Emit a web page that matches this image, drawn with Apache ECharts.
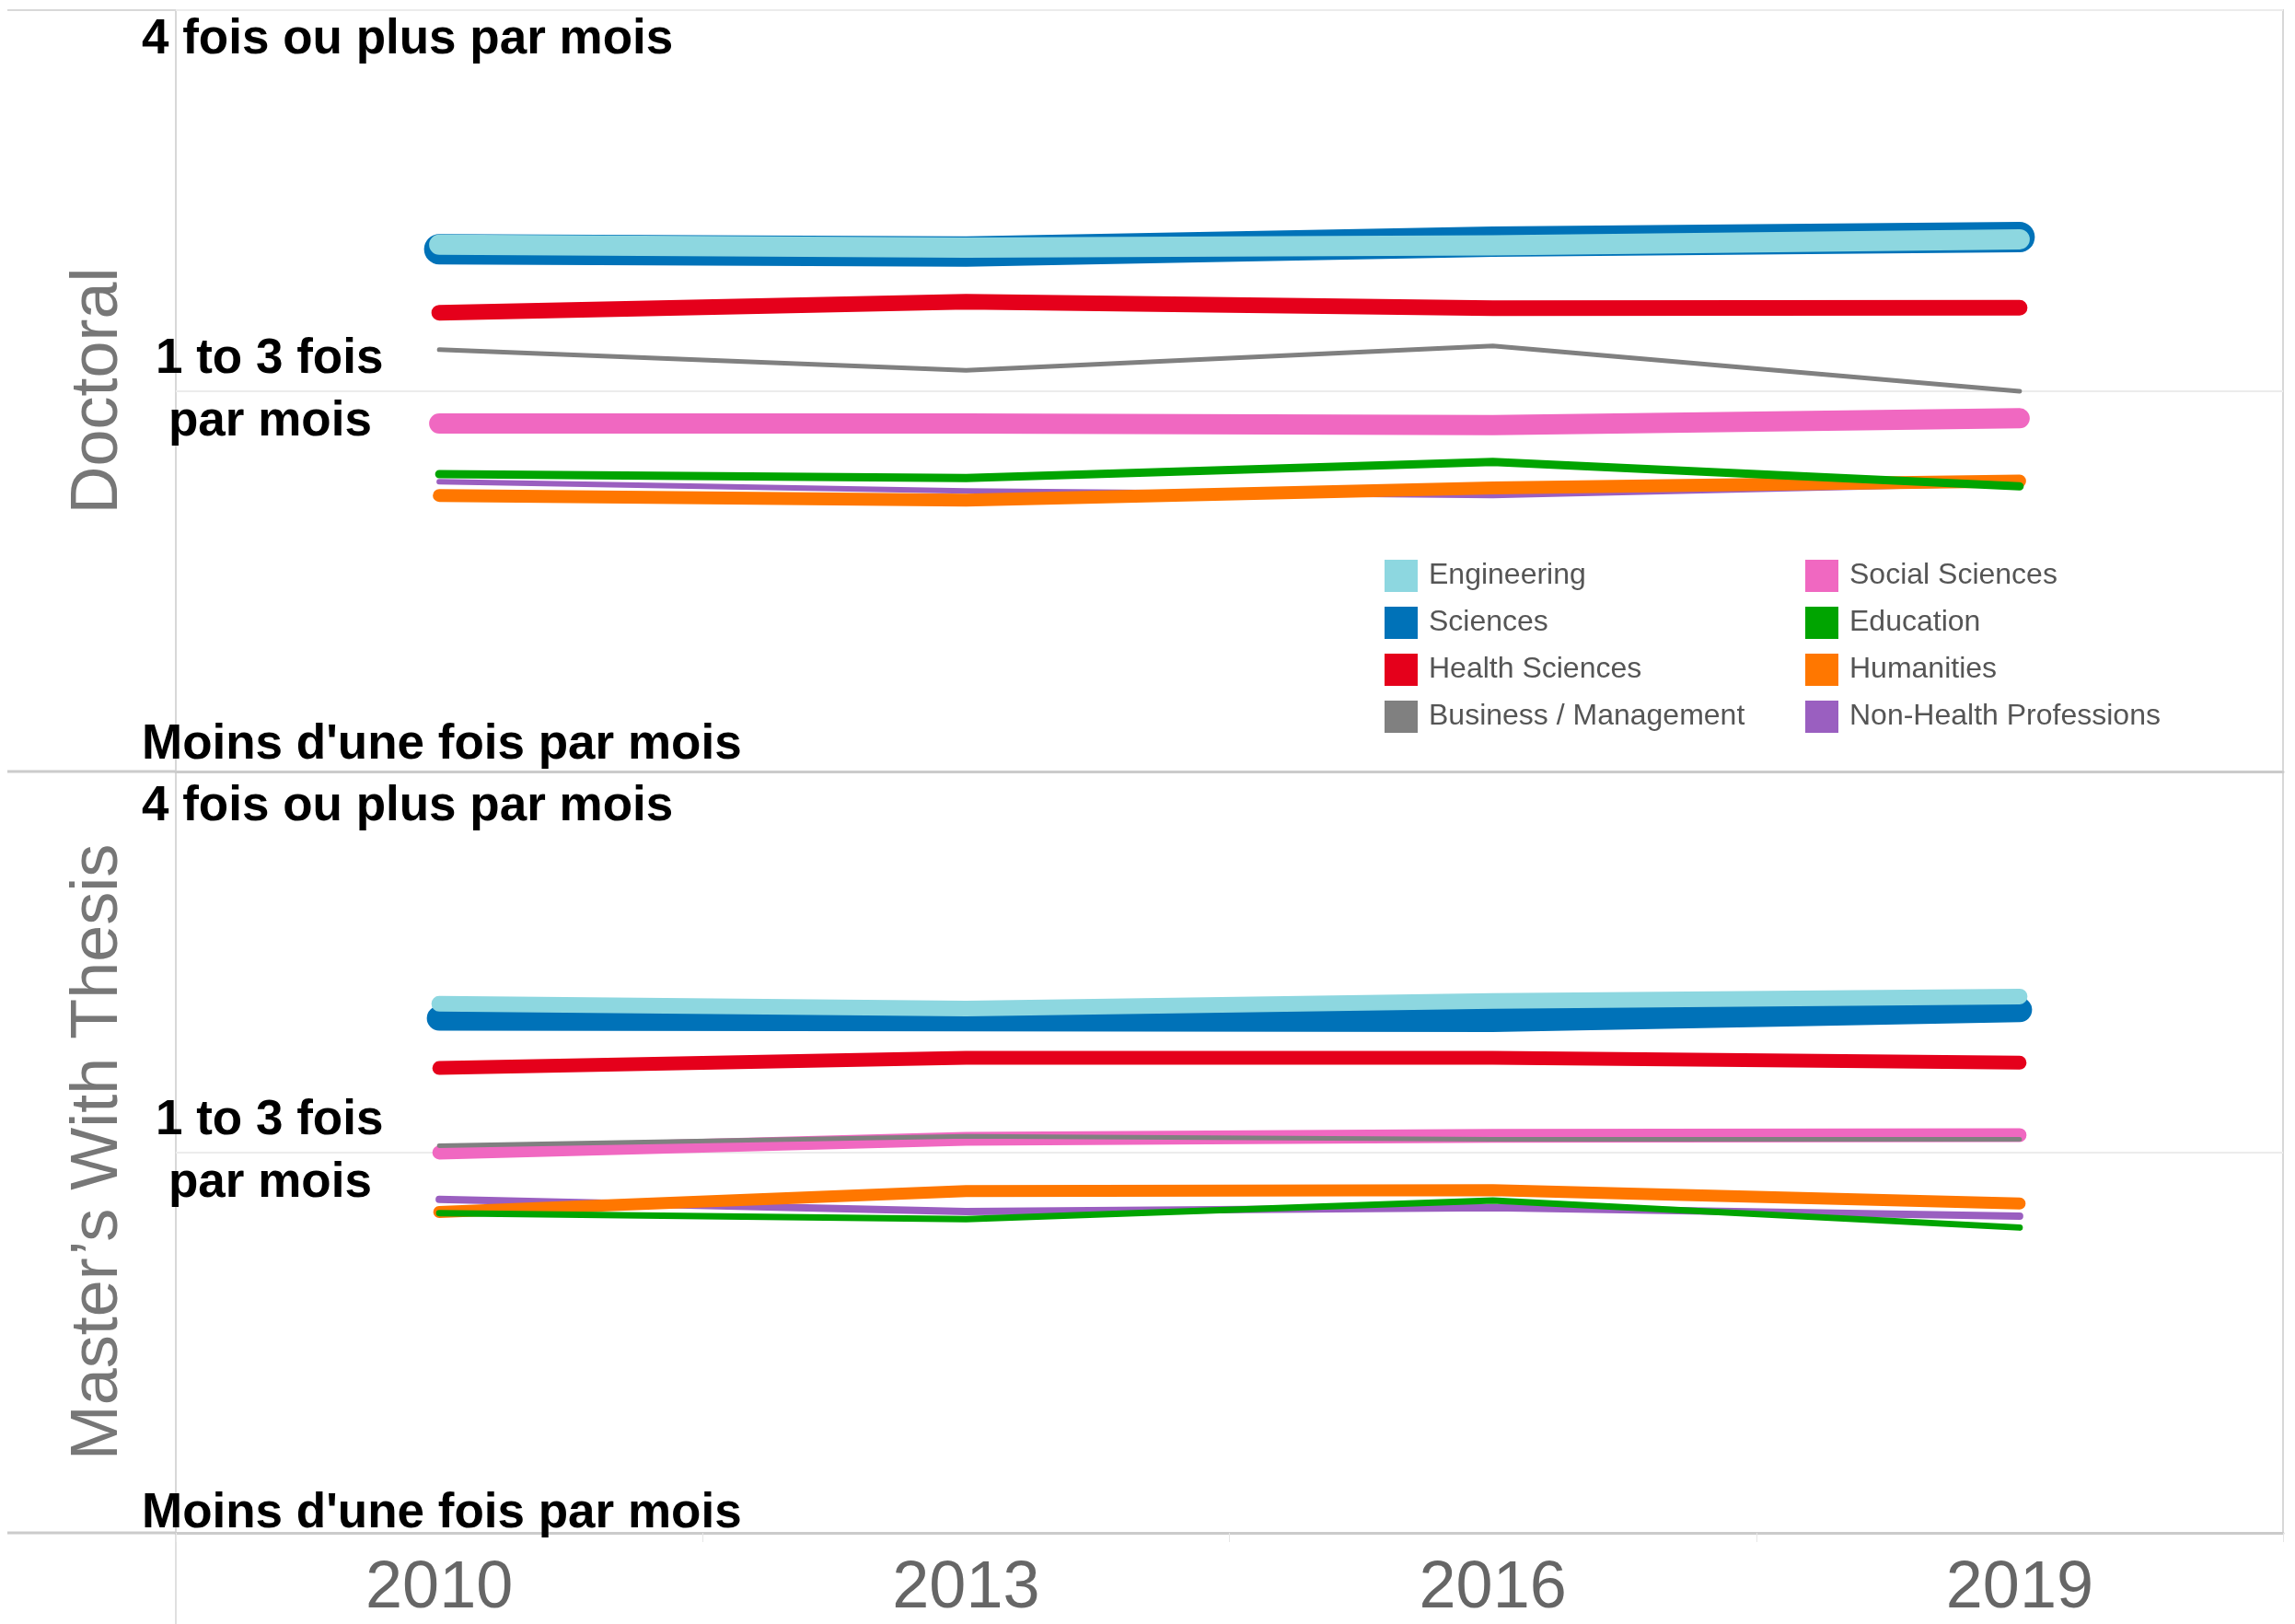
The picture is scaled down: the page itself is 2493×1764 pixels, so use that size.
<!DOCTYPE html>
<html>
<head>
<meta charset="utf-8">
<title>Fréquence par discipline</title>
<script src="https://cdn.jsdelivr.net/npm/echarts@6.0.0/dist/echarts.min.js"></script>
<style>
    html, body { margin: 0; padding: 0; background: #fff; }
    #main { width: 2493px; height: 1764px; }
</style>
</head>
<body>
<div id="main"></div>
<script>
// x categories
var years = ['2010', '2013', '2016', '2019'];

// y scale : 1 = moins d'une fois, 2 = 1 to 3 fois, 3 = 4 fois ou plus
var yTickValues = [1, 2, 3];
var yTickLabels = ["Moins d'une fois par mois", "1 to 3 fois\npar mois", "4 fois ou plus par mois"];

var panelNames = ['Doctoral', 'Master\u2019s With Thesis'];

// drawing order (last one on top)
var disciplines = ['Sciences', 'Engineering', 'Health Sciences', 'Social Sciences',
    'Business / Management', 'Non-Health Professions', 'Humanities', 'Education'];
var legendCol1 = ['Engineering', 'Sciences', 'Health Sciences', 'Business / Management'];
var legendCol2 = ['Social Sciences', 'Education', 'Humanities', 'Non-Health Professions'];

// Doctoral
var docEngineering = [2.384, 2.376, 2.382, 2.398];
var docSciences    = [2.372, 2.366, 2.392, 2.404];
var docHealth      = [2.205, 2.234, 2.217, 2.218];
var docBusiness    = [2.108, 2.054, 2.118, 1.999];
var docSocial      = [1.914, 1.914, 1.910, 1.928];
var docEducation   = [1.781, 1.771, 1.813, 1.749];
var docNonHealth   = [1.761, 1.737, 1.725, 1.757];
var docHumanities  = [1.725, 1.713, 1.745, 1.763];

// Master's with thesis
var msEngineering = [2.390, 2.377, 2.397, 2.409];
var msSciences    = [2.352, 2.350, 2.348, 2.374];
var msHealth      = [2.221, 2.248, 2.248, 2.235];
var msBusiness    = [2.017, 2.042, 2.034, 2.034];
var msSocial      = [1.999, 2.035, 2.043, 2.045];
var msEducation   = [1.840, 1.824, 1.873, 1.802];
var msNonHealth   = [1.876, 1.844, 1.854, 1.832];
var msHumanities  = [1.843, 1.898, 1.900, 1.865];

var panelData = [
    {'Engineering': docEngineering, 'Sciences': docSciences, 'Health Sciences': docHealth,
     'Business / Management': docBusiness, 'Social Sciences': docSocial, 'Education': docEducation,
     'Non-Health Professions': docNonHealth, 'Humanities': docHumanities},
    {'Engineering': msEngineering, 'Sciences': msSciences, 'Health Sciences': msHealth,
     'Business / Management': msBusiness, 'Social Sciences': msSocial, 'Education': msEducation,
     'Non-Health Professions': msNonHealth, 'Humanities': msHumanities}
];

var colors = {
    'Engineering': '#8dd7e0', 'Sciences': '#0072b8', 'Health Sciences': '#e5001b',
    'Business / Management': '#808080', 'Social Sciences': '#f068c1', 'Education': '#00a400',
    'Humanities': '#ff7700', 'Non-Health Professions': '#9a5fc0'
};
var lineWidths = [
    {'Engineering': 22, 'Sciences': 33, 'Health Sciences': 17, 'Social Sciences': 22,
     'Business / Management': 5, 'Non-Health Professions': 6, 'Humanities': 14, 'Education': 9},
    {'Engineering': 17, 'Sciences': 27, 'Health Sciences': 15, 'Social Sciences': 15,
     'Business / Management': 5, 'Non-Health Professions': 8, 'Humanities': 13, 'Education': 7}
];

// layout (px)
var LEFT = 191, RIGHT = 13, TOP = 11, PANEL_H = 827;
var FONT = 'Liberation Sans';

function labelStyle(lh, pad) {
    return {fontSize: 53, fontWeight: 'bold', color: '#000', fontFamily: FONT, lineHeight: lh, padding: pad};
}

function makeYAxis(p, topLH, botLH) {
    return {
        type: 'value', gridIndex: p, min: 1, max: 3, interval: 1,
        name: panelNames[p], nameLocation: 'middle', nameRotate: 90, nameGap: 47,
        nameTextStyle: {fontSize: 72, color: '#777', fontFamily: FONT},
        axisLine: {show: false}, axisTick: {show: false},
        splitLine: {show: true, lineStyle: {color: '#ececec', width: 2}},
        axisLabel: {
            show: true, showMinLabel: true, showMaxLabel: true,
            align: 'left', margin: 37,
            verticalAlignMinLabel: 'bottom', verticalAlignMaxLabel: 'top',
            formatter: function (v) {
                var txt = yTickLabels[yTickValues.indexOf(v)];
                if (v === 3) return '{hi|' + txt + '}';
                if (v === 1) return '{lo|' + txt + '}';
                var parts = txt.split('\n');
                return '{m1|' + parts[0] + '}\n{m2|' + parts[1] + '}';
            },
            rich: {
                hi: labelStyle(topLH, 0),
                lo: labelStyle(botLH, 0),
                m1: labelStyle(68, [0, 0, 0, 15]),
                m2: labelStyle(68, [0, 0, 0, 29])
            }
        }
    };
}

function makeXAxis(p, showLabels) {
    return {
        type: 'category', gridIndex: p, data: years, boundaryGap: true,
        axisLine: {show: true, lineStyle: {color: '#cbcbcb', width: 3}},
        axisTick: {show: showLabels, length: 10, lineStyle: {color: '#e6e6e6', width: 1}},
        axisLabel: {show: showLabels, fontSize: 72, color: '#666', margin: 25, fontFamily: FONT},
        splitLine: {show: false}
    };
}

var series = [];
for (var p = 0; p < 2; p++) {
    for (var i = 0; i < disciplines.length; i++) {
        var d = disciplines[i];
        series.push({
            name: d, type: 'line', xAxisIndex: p, yAxisIndex: p,
            data: panelData[p][d],
            symbol: 'none', showSymbol: false, silent: true,
            itemStyle: {color: colors[d]},
            lineStyle: {color: colors[d], width: lineWidths[p][d], cap: 'round', join: 'round'}
        });
    }
}

function legendCol(data, left) {
    return {
        data: data, left: left, top: 608, orient: 'vertical', icon: 'rect',
        itemWidth: 36, itemHeight: 35, itemGap: 16, padding: 0, selectedMode: false,
        textStyle: {fontSize: 32, color: '#555', fontFamily: FONT, padding: [0, 0, 0, 7]}
    };
}

var myChart = echarts.init(document.getElementById('main'), null, {renderer: 'canvas'});
var option = {
    animation: false,
    backgroundColor: '#fff',
    grid: [
        {left: LEFT, right: RIGHT, top: TOP, height: PANEL_H, show: true, borderColor: '#d8d8d8', borderWidth: 2, outerBoundsMode: 'none'},
        {left: LEFT, right: RIGHT, top: TOP + PANEL_H, height: PANEL_H, show: true, borderColor: '#d8d8d8', borderWidth: 2, outerBoundsMode: 'none'}
    ],
    xAxis: [makeXAxis(0, false), makeXAxis(1, true)],
    yAxis: [makeYAxis(0, 64, 58), makeYAxis(1, 76, 42)],
    legend: [legendCol(legendCol1, 1504), legendCol(legendCol2, 1961)],
    // frame segments left of the axis, as in the original panes
    graphic: [
        {type: 'line', shape: {x1: 8, y1: TOP, x2: LEFT, y2: TOP}, style: {stroke: '#d8d8d8', lineWidth: 2}},
        {type: 'line', shape: {x1: 8, y1: TOP + PANEL_H, x2: LEFT, y2: TOP + PANEL_H}, style: {stroke: '#cbcbcb', lineWidth: 3}},
        {type: 'line', shape: {x1: 8, y1: TOP + 2 * PANEL_H, x2: LEFT, y2: TOP + 2 * PANEL_H}, style: {stroke: '#cbcbcb', lineWidth: 3}},
        {type: 'line', shape: {x1: LEFT, y1: TOP + 2 * PANEL_H, x2: LEFT, y2: 1764}, style: {stroke: '#e0e0e0', lineWidth: 2}}
    ],
    series: series
};
myChart.setOption(option);
</script>
</body>
</html>
